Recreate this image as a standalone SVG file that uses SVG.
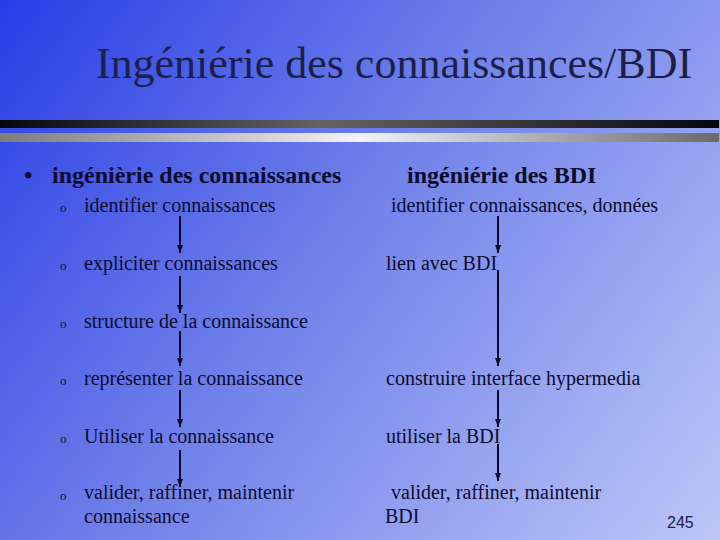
<svg xmlns="http://www.w3.org/2000/svg" width="720" height="540" viewBox="0 0 720 540">
  <defs>
    <linearGradient id="bg" x1="0" y1="0" x2="720" y2="540" gradientUnits="userSpaceOnUse">
      <stop offset="0" stop-color="#2a3de6"/>
      <stop offset="0.45" stop-color="#6f80ea"/>
      <stop offset="1" stop-color="#bcc7f7"/>
    </linearGradient>
    <linearGradient id="bar1" x1="0" y1="0" x2="1" y2="0">
      <stop offset="0" stop-color="#05060f"/>
      <stop offset="0.45" stop-color="#646464"/>
      <stop offset="1" stop-color="#05060f"/>
    </linearGradient>
    <linearGradient id="bar2" x1="0" y1="0" x2="1" y2="0">
      <stop offset="0" stop-color="#7c7c7c"/>
      <stop offset="0.5" stop-color="#f2f2f8"/>
      <stop offset="1" stop-color="#6a6a6a"/>
    </linearGradient>
    <marker id="ah" viewBox="0 0 8 6" refX="8" refY="3" markerWidth="8" markerHeight="6" markerUnits="userSpaceOnUse" orient="auto">
      <path d="M0,0 L8,3 L0,6 Z" fill="#0a0a28"/>
    </marker>
  </defs>
  <style>
    text { fill: #0c0c2e; font-family: "Liberation Serif", "Times New Roman", serif; }
    .title { font-size: 44px; fill: #1c2048; }
    .head { font-size: 24px; font-weight: bold; }
    .item { font-size: 20px; }
    .dot { font-size: 13px; }
    .num { font-family: "Liberation Sans", Arial, sans-serif; font-size: 16px; fill: #1a1c40; }
    .arr { stroke: #0a0a28; stroke-width: 2; fill: none; }
  </style>
  <rect width="720" height="540" fill="url(#bg)"/>
  <rect x="0" y="120" width="719" height="8" fill="url(#bar1)"/>
  <rect x="0" y="133" width="719" height="9" fill="url(#bar2)"/>

  <text class="title" x="394" y="78" text-anchor="middle">Ingéniérie des connaissances/BDI</text>

  <g id="left-head">
    <text class="head" x="24" y="183">•</text>
    <text class="head" x="52" y="183">ingénièrie des connaissances</text>
  </g>
  <g id="right-head"><text class="head" x="407" y="183">ingéniérie des BDI</text></g>

  <g id="l1"><text class="dot" x="60" y="212">o</text><text class="item" x="84" y="212">identifier connaissances</text></g>
  <g id="l2"><text class="dot" x="60" y="270">o</text><text class="item" x="84" y="270">expliciter connaissances</text></g>
  <g id="l3"><text class="dot" x="60" y="328">o</text><text class="item" x="84" y="328">structure de la connaissance</text></g>
  <g id="l4"><text class="dot" x="60" y="385">o</text><text class="item" x="84" y="385">représenter la connaissance</text></g>
  <g id="l5"><text class="dot" x="60" y="443">o</text><text class="item" x="84" y="443">Utiliser la connaissance</text></g>
  <g id="l6"><text class="dot" x="60" y="500">o</text><text class="item" x="84" y="499">valider, raffiner, maintenir</text><text class="item" x="84" y="523">connaissance</text></g>

  <g id="r1"><text class="item" x="391" y="212">identifier connaissances, données</text></g>
  <g id="r2"><text class="item" x="386" y="270">lien avec BDI</text></g>
  <g id="r4"><text class="item" x="386" y="385">construire interface hypermedia</text></g>
  <g id="r5"><text class="item" x="386" y="443">utiliser la BDI</text></g>
  <g id="r6"><text class="item" x="391" y="499">valider, raffiner, maintenir</text><text class="item" x="385" y="523">BDI</text></g>

  <text class="num" x="667" y="528">245</text>

  <g id="connectors">
    <line class="arr" x1="180" y1="216" x2="180" y2="253" marker-end="url(#ah)"/>
    <line class="arr" x1="180" y1="276" x2="180" y2="313" marker-end="url(#ah)"/>
    <line class="arr" x1="180" y1="331" x2="180" y2="366" marker-end="url(#ah)"/>
    <line class="arr" x1="180" y1="390" x2="180" y2="427" marker-end="url(#ah)"/>
    <line class="arr" x1="180" y1="450" x2="180" y2="487" marker-end="url(#ah)"/>
    <line class="arr" x1="498" y1="216" x2="498" y2="253" marker-end="url(#ah)"/>
    <line class="arr" x1="498" y1="270" x2="498" y2="366" marker-end="url(#ah)"/>
    <line class="arr" x1="498" y1="390" x2="498" y2="427" marker-end="url(#ah)"/>
    <line class="arr" x1="498" y1="444" x2="498" y2="481" marker-end="url(#ah)"/>
  </g>
</svg>
